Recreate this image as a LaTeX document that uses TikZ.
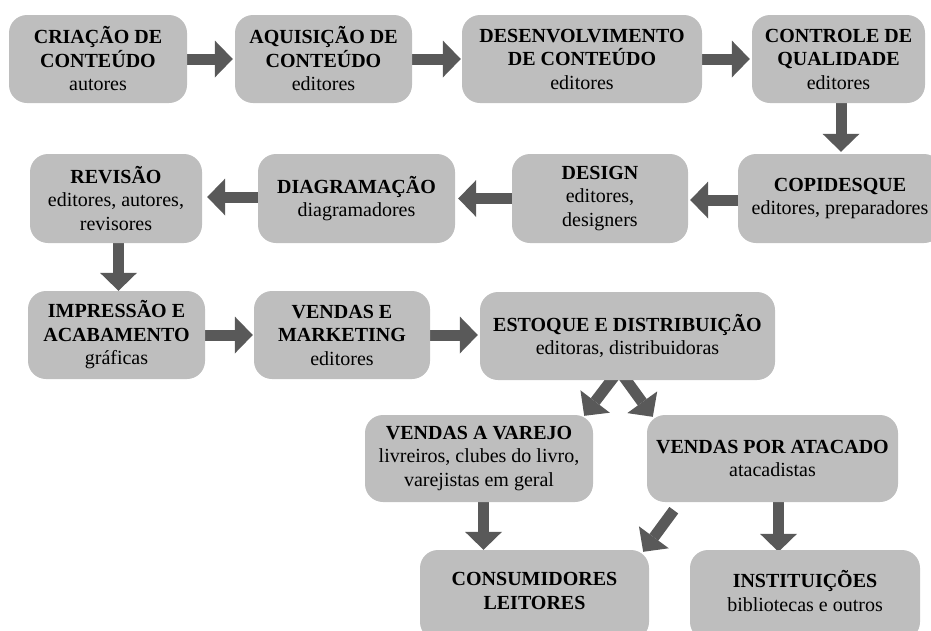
\documentclass[tikz,border=0pt]{standalone}
\usepackage{fontspec}
\setmainfont{Liberation Serif}
\newfontfamily\diagfont{Liberation Serif}
\usetikzlibrary{arrows.meta,calc,backgrounds}
\definecolor{boxgray}{HTML}{BEBEBE}
\definecolor{arrgray}{HTML}{595959}
\begin{document}
\begin{tikzpicture}[x=1pt,y=-1pt,
  box/.style={fill=boxgray, rounded corners=18pt, inner sep=0pt, align=center,
    font=\diagfont\fontsize{20}{23.5}\selectfont, text=black},
  txt/.style={inner sep=0pt, align=center, font=\diagfont\fontsize{20}{23.5}\selectfont, text=black},
  fat/.style={draw=arrgray, line width=11pt,
    -{Triangle[width=37pt,length=18pt,line width=0pt]}},
]
\useasboundingbox (0,0) rectangle (931,630);
\clip (0,0) rectangle (931,630);

% row 1
\node[box, minimum width=178pt, minimum height=88pt] (criacao) at (98,59)
  {\textbf{CRIAÇÃO DE}\\\textbf{CONTEÚDO}\\autores};
\node[box, minimum width=177pt, minimum height=88pt] (aquisicao) at (323.5,59)
  {\textbf{AQUISIÇÃO DE}\\\textbf{CONTEÚDO}\\editores};
\node[box, minimum width=240pt, minimum height=88pt] (desenv) at (582,59)
  {\textbf{DESENVOLVIMENTO}\\\textbf{DE CONTEÚDO}\\editores};
\node[box, minimum width=173pt, minimum height=88pt] (controle) at (838.5,59)
  {\textbf{CONTROLE DE}\\\textbf{QUALIDADE}\\editores};

% row 2
\node[box, minimum width=204pt, minimum height=89pt] (copidesque) at (840,198.5)
  {\textbf{COPIDESQUE}\\editores, preparadores};
\node[box, minimum width=176pt, minimum height=89pt] (design) at (600,198.5)
  {\textbf{DESIGN}\\editores,\\designers};
\node[box, minimum width=197pt, minimum height=89pt] (diagramacao) at (356.5,198.5)
  {\textbf{DIAGRAMAÇÃO}\\diagramadores};
\node[box, minimum width=172pt, minimum height=89pt] (revisao) at (116,198.5)
  {\textbf{REVISÃO}\\editores, autores,\\revisores};

% row 3
\node[box, minimum width=177pt, minimum height=88pt] (impressao) at (116.5,335)
  {\textbf{IMPRESSÃO E}\\\textbf{ACABAMENTO}\\gráficas};
\node[box, minimum width=176pt, minimum height=88pt] (vendasmkt) at (342,335)
  {\textbf{VENDAS E}\\\textbf{MARKETING}\\editores};
\node[box, minimum width=295pt, minimum height=88pt] (estoque) at (627.5,336)
  {\textbf{ESTOQUE E DISTRIBUIÇÃO}\\editoras, distribuidoras};

% row 4
\node[box, minimum width=228pt, minimum height=87pt] (varejo) at (479,458.5)
  {\textbf{VENDAS A VAREJO}\\livreiros, clubes do livro,\\varejistas em geral};
\node[box, minimum width=251pt, minimum height=87pt] (atacado) at (772.5,458.5)
  {\textbf{VENDAS POR ATACADO}\\atacadistas};

% row 5
\node[box, minimum width=229pt, minimum height=90pt] (consumidores) at (534.5,595) {};
\node[txt] (consumidorestxt) at (534.5,591) {\textbf{CONSUMIDORES}\\\textbf{LEITORES}};
\node[box, minimum width=230pt, minimum height=90pt] (instituicoes) at (805,595) {};
\node[txt] (instituicoestxt) at (805,591) {\textbf{INSTITUIÇÕES}\\bibliotecas e outros};

\coordinate (esplit) at ($(estoque.south)+(-8.5,-10)$);
\coordinate (acstart) at ($(atacado.south west)+(27,8)$);

\begin{pgfonlayer}{background}
\draw[fat] (criacao.east) -- ($(aquisicao.west)+(-2,0)$);
\draw[fat] (aquisicao.east) -- ($(desenv.west)+(-1,0)$);
\draw[fat] (desenv.east) -- ($(controle.west)+(-2,0)$);
\draw[fat] ($(controle.south)+(2.5,0)$) -- ($(controle.south|-copidesque.north)+(2.5,-2)$);
\draw[fat] ($(copidesque.west)+(0,1.5)$) -- ($(design.east|-copidesque.west)+(2,1.5)$);
\draw[fat] (design.west) -- ($(diagramacao.east|-design.west)+(3,0)$);
\draw[fat] ($(diagramacao.west)+(0,-1.5)$) -- ($(revisao.east|-diagramacao.west)+(5,-1.5)$);
\draw[fat] ($(revisao.south)+(2.5,0)$) -- ($(revisao.south|-impressao.north)+(2.5,0)$);
\draw[fat] (impressao.east) -- ($(vendasmkt.west)+(-1,0)$);
\draw[fat] (vendasmkt.east) -- ($(vendasmkt.east-|estoque.west)+(-2,0)$);
\draw[fat] (esplit) -- ($(varejo.north east)+(-9,1)$);
\draw[fat] (esplit) -- ($(atacado.north west)+(6,2)$);
\draw[fat] ($(varejo.south)+(4.5,0)$) -- ($(varejo.south|-consumidores.north)+(4.5,0)$);
\draw[fat] (acstart) -- ($(consumidores.north east)+(-6,2)$);
\draw[fat] ($(atacado.south)+(6,0)$) -- ($(atacado.south|-instituicoes.north)+(6,2)$);
\end{pgfonlayer}
\end{tikzpicture}
\end{document}
